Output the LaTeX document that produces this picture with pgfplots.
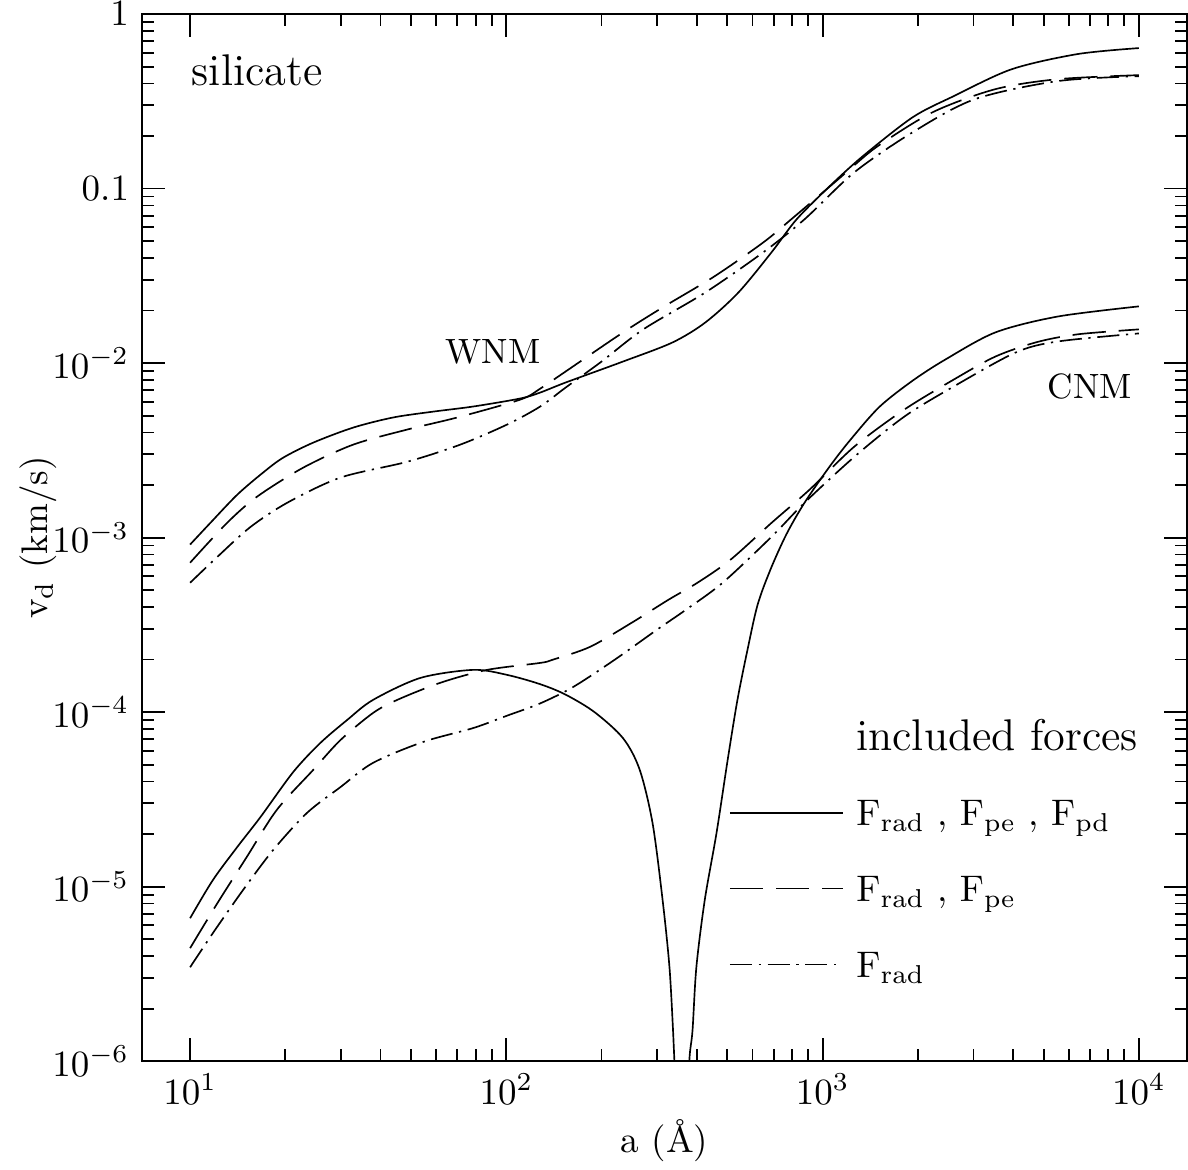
\documentclass[border=0pt]{standalone}
\usepackage{pgfplots}
\pgfplotsset{compat=1.18}
\tikzset{
  sol/.style={black, line width=0.45pt},
  dsh/.style={black, line width=0.45pt, dash pattern=on 9pt off 3.5pt},
  dd/.style={black, line width=0.45pt, dash pattern=on 6pt off 1.8pt on 0.6pt off 1.8pt},
}
\begin{document}
\begin{tikzpicture}
\begin{axis}[
  scale only axis, width=282.4pt, height=283pt,
  xmode=log, ymode=log,
  xmin=7.05, xmax=14190, ymin=1e-6, ymax=1,
  xtick={10,100,1000,10000},
  xticklabels={$10^{1}$,$10^{2}$,$10^{3}$,$10^{4}$},
  ytick={1e-6,1e-5,1e-4,1e-3,1e-2,1e-1,1},
  yticklabels={$10^{-6}$,$10^{-5}$,$10^{-4}$,$10^{-3}$,$10^{-2}$,$0.1$,$1$},
  major tick length=6.2pt, minor tick length=3.2pt,
  axis line style={line width=0.55pt},
  every tick/.style={black, line width=0.5pt},
  xlabel={a (\AA)}, ylabel={v$_{\mathrm{d}}$ (km/s)},
  xlabel style={at={(axis description cs:0.5,-0.0755)}, anchor=center},
  ylabel style={at={(axis description cs:-0.0995,0.5)}, anchor=center},
  legend style={draw=none, fill=none, inner sep=0pt, outer sep=0pt,
    at={(axis description cs:0.5617,0.3242)}, anchor=north west,
    row sep=12.3pt,
    nodes={inner sep=0pt, text height=7.7pt, text depth=0.5pt},
    /tikz/every odd column/.append style={column sep=3.5pt}},
  legend cell align=left,
  legend image code/.code={\draw[#1] (0pt,0pt) -- (30.5pt,0pt);},
]
% WNM
\addplot[sol, smooth, forget plot] coordinates {
(10,9.12e-4) (11.6,1.216e-3) (14.1,1.762e-3) (17.0,2.355e-3) (19.7,2.871e-3)
(24.5,3.50e-3) (32.8,4.27e-3) (43.9,4.88e-3) (58.7,5.27e-3) (78.7,5.64e-3)
(110.8,6.27e-3) (128,6.78e-3) (154,7.74e-3) (234,1.021e-2) (335,1.312e-2)
(426,1.710e-2) (542,2.54e-2) (690,4.32e-2) (828,6.67e-2) (1052,0.1030)
(1339,0.1531) (1928,0.2564) (2600,0.3388) (3965,0.4831) (6412,0.5902) (10000,0.6383)};
\addplot[dsh, smooth, forget plot] coordinates {
(10,7.18e-4) (13.1,1.216e-3) (16.3,1.718e-3) (22.8,2.518e-3) (32.8,3.41e-3)
(48.6,4.16e-3) (70,4.88e-3) (110.8,6.18e-3) (128,7.14e-3) (154,8.95e-3)
(234,1.500e-2) (316,2.113e-2) (455,3.14e-2) (650,4.92e-2) (803,6.76e-2)
(1114,0.112) (1262,0.1365) (1514,0.178) (2243,0.2754) (3523,0.3715) (5546,0.4236) (10000,0.4467)};
\addplot[dd, smooth, forget plot] coordinates {
(10,5.51e-4) (12.2,7.76e-4) (15.5,1.148e-3) (20.3,1.585e-3) (29.9,2.208e-3)
(48.6,2.72e-3) (71.5,3.41e-3) (100.7,4.45e-3) (128,5.64e-3) (154,7.24e-3)
(200,1.02e-2) (271,1.560e-2) (426,2.54e-2) (650,4.32e-2) (877,6.67e-2)
(1262,0.1242) (1928,0.2104) (3027,0.3251) (5546,0.4130) (10000,0.4406)};
% CNM
\addplot[sol, smooth, forget plot] coordinates {
(10,6.59e-6) (11.8,1.089e-5) (14.1,1.687e-5) (16.7,2.506e-5) (21.2,4.54e-5)
(25.8,6.65e-5) (31.4,9.02e-5) (37.9,1.175e-4) (53.5,1.570e-4) (78.7,1.746e-4)
(100.7,1.633e-4) (128,1.445e-4) (154,1.259e-4) (190,1.0e-4) (234,7.08e-5)
(264,4.68e-5) (290,2.31e-5) (312,8.37e-6) (328,3.45e-6) (337,1.44e-6)
(340,1.0e-6) (343,4e-7)};
\addplot[sol, smooth, forget plot] coordinates {
(375,4e-7) (379,1.0e-6) (388,1.50e-6) (399,3.45e-6) (424,8.37e-6) (462,2.03e-5)
(501,5.32e-5) (538,1.175e-4) (579,2.28e-4) (623,4.12e-4) (684,6.55e-4)
(769,1.047e-3) (877,1.585e-3) (1052,2.55e-3) (1227,3.65e-3)
(1514,5.62e-3) (1928,7.94e-3) (2449,1.050e-2) (3523,1.500e-2) (5546,1.849e-2) (10000,2.113e-2)};
\addplot[dsh, smooth, forget plot] coordinates {
(10,4.44e-6) (12.2,8.04e-6) (15.1,1.476e-5) (18.8,2.75e-5) (24.5,4.66e-5)
(29.9,6.92e-5) (37.9,9.89e-5) (45.2,1.175e-4) (61.8,1.472e-4) (87,1.746e-4)
(128,1.914e-4) (140,1.995e-4) (184,2.366e-4) (249,3.25e-4) (326,4.41e-4)
(402,5.51e-4) (511,7.46e-4) (690,1.216e-3) (910,1.884e-3) (1262,3.33e-3)
(1815,5.42e-3) (2600,8.05e-3) (3523,1.091e-2) (4753,1.318e-2) (6412,1.462e-2) (10000,1.560e-2)};
\addplot[dd, smooth, forget plot] coordinates {
(10,3.45e-6) (11.8,5.41e-6) (14.7,9.55e-6) (18.3,1.618e-5) (23.4,2.64e-5)
(29.9,3.72e-5) (37.9,5.12e-5) (54.6,6.75e-5) (78.7,8.11e-5) (100.7,9.55e-5)
(128,1.122e-4) (163,1.396e-4) (220,1.995e-4) (299,2.96e-4) (369,3.85e-4)
(483,5.51e-4) (690,1.012e-3) (877,1.585e-3) (1262,2.91e-3) (1815,4.94e-3)
(2600,7.35e-3) (4083,1.151e-2) (5546,1.330e-2) (10000,1.479e-2)};
% legend
\addlegendimage{empty legend}
\addlegendentry{\fontsize{12}{14}\selectfont included forces}
\addlegendimage{sol}
\addlegendentry{$\mathrm{F}_{\mathrm{rad}}$ , $\mathrm{F}_{\mathrm{pe}}$ , $\mathrm{F}_{\mathrm{pd}}$}
\addlegendimage{dsh}
\addlegendentry{$\mathrm{F}_{\mathrm{rad}}$ , $\mathrm{F}_{\mathrm{pe}}$}
\addlegendimage{dd}
\addlegendentry{$\mathrm{F}_{\mathrm{rad}}$}
% labels
\node[anchor=base west, inner sep=0pt, font=\fontsize{12}{14}\selectfont] at (axis description cs:0.0469,0.932) {silicate};
\node[anchor=base west, inner sep=0pt, font=\fontsize{9.5}{11}\selectfont] at (axis description cs:0.290,0.6667) {WNM};
\node[anchor=base west, inner sep=0pt, font=\fontsize{9.5}{11}\selectfont] at (axis description cs:0.866,0.633) {CNM};
\end{axis}
\pgfresetboundingbox
\path ([xshift=-38.4pt,yshift=-29.2pt]current axis.south west) rectangle ([xshift=0.3pt,yshift=3.8pt]current axis.north east);
\end{tikzpicture}
\end{document}
